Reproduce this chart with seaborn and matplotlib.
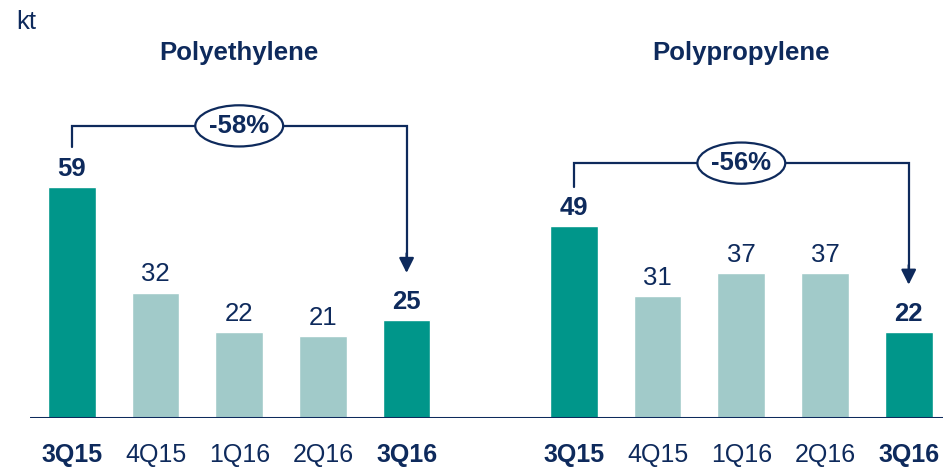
"""
PE / PP sales volumes, 3Q15 to 3Q16
"""

import matplotlib.pyplot as plt
import pandas as pd
import seaborn as sns
from matplotlib.patches import Ellipse

# data
quarters = ["3Q15", "4Q15", "1Q16", "2Q16", "3Q16"]
pe_values = [59, 32, 22, 21, 25]
pp_values = [49, 31, 37, 37, 22]
products = ["Polyethylene", "Polypropylene"]
changes = ["-58%", "-56%"]
highlight = [True, False, False, False, True]

NAVY = "#0E2A5C"
DARK = "#00968A"
LIGHT = "#A1CAC9"

sns.set_style("white")
plt.rcParams["font.family"] = ["Liberation Sans", "DejaVu Sans"]

# one axis, second group shifted by 6 slots to leave a gap
rows = []
for g, vals in enumerate([pe_values, pp_values]):
    for i, (q, v) in enumerate(zip(quarters, vals)):
        rows.append({"pos": i + 6 * g, "quarter": q, "value": v,
                     "kind": "dark" if highlight[i] else "light"})
df = pd.DataFrame(rows)

fig = plt.figure(figsize=(9.43, 4.69), dpi=100)
ax = fig.add_axes([30 / 943, 51 / 469, 1 - 30 / 943, 1 - 51 / 469])

sns.barplot(data=df, x="pos", y="value", hue="kind", native_scale=True,
            palette={"dark": DARK, "light": LIGHT}, width=0.57,
            legend=False, ax=ax, saturation=1)

ax.set_xlim(-0.5, 10.41)
ax.set_ylim(0, 106.6)
for s in ax.spines.values():
    s.set_visible(False)
ax.axhline(0, color=NAVY, lw=2.2, zorder=5)
ax.set_yticks([])
ax.set_xlabel("")
ax.set_ylabel("")

ax.set_xticks(df["pos"])
ax.set_xticklabels(df["quarter"])
ax.tick_params(axis="x", length=0, pad=18, labelsize=18, labelcolor=NAVY)
for lbl, (_, r) in zip(ax.get_xticklabels(), df.iterrows()):
    if r["kind"] == "dark":
        lbl.set_fontweight("bold")

# value labels
for _, r in df.iterrows():
    ax.annotate(str(r["value"]), (r["pos"], r["value"]), xytext=(0, 8),
                textcoords="offset points", ha="center", va="baseline",
                fontsize=18.5, color=NAVY,
                fontweight="bold" if r["kind"] == "dark" else "normal")

# titles
for g, name in enumerate(products):
    ax.text(2 + 6 * g, 93.2, name, ha="center", va="center",
            fontsize=18.5, fontweight="bold", color=NAVY)

fig.text(16 / 943, 1 - 22 / 469, "kt", ha="left", va="center",
         fontsize=18.5, color=NAVY)

# change brackets
bracket_y = [74.5, 65]
for g, (vals, ch) in enumerate(zip([pe_values, pp_values], changes)):
    x0, x1 = 6 * g, 4 + 6 * g
    y = bracket_y[g]
    ax.plot([x0, x0, x1, x1], [vals[0] + 10, y, y, vals[-1] + 16],
            color=NAVY, lw=1.6, solid_joinstyle="miter", zorder=3)
    ax.annotate("", xy=(x1, vals[-1] + 12), xytext=(x1, vals[-1] + 17),
                arrowprops=dict(arrowstyle="-|>,head_length=0.9,head_width=0.45",
                                color=NAVY, lw=1.6, shrinkA=0, shrinkB=0))
    ax.add_patch(Ellipse((2 + 6 * g, y), 1.05, 10.5, facecolor="white",
                         edgecolor=NAVY, lw=1.6, zorder=4))
    ax.text(2 + 6 * g, y, ch, ha="center", va="center", fontsize=18.5,
            fontweight="bold", color=NAVY, zorder=6)

fig.savefig("out.png", dpi=100)
